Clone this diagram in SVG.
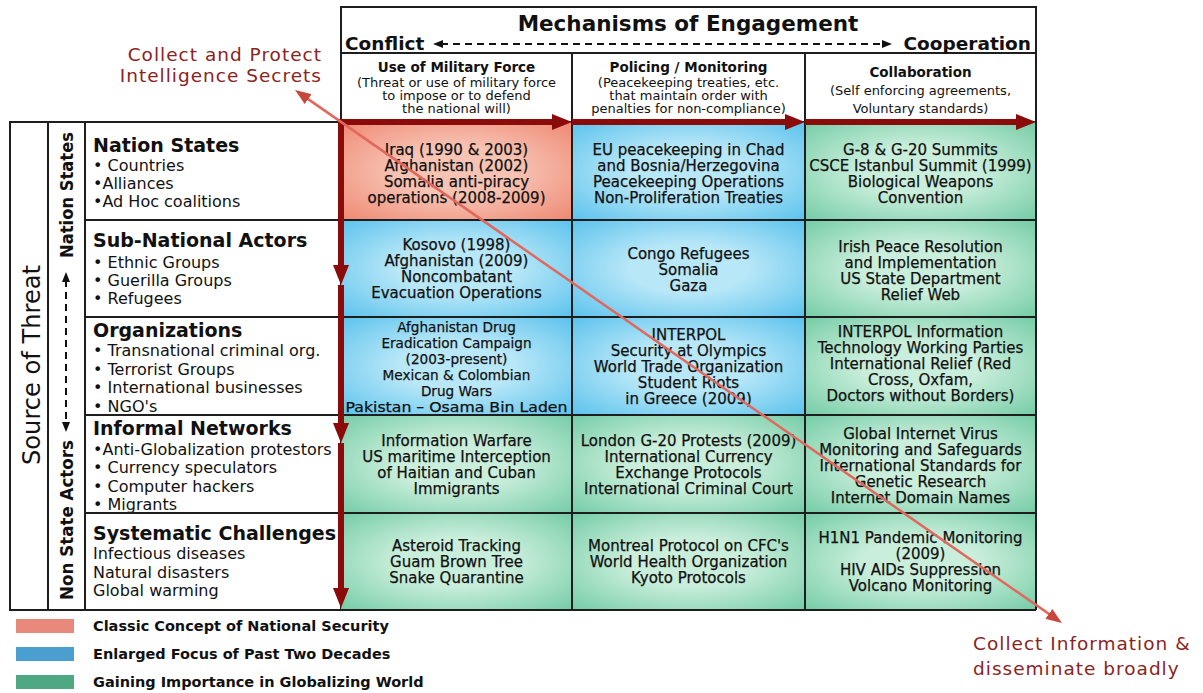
<svg xmlns="http://www.w3.org/2000/svg" width="1203" height="693" viewBox="0 0 1203 693">
<style>
text{font-family:"DejaVu Sans","Liberation Sans",sans-serif;fill:#111}
.cell{font-size:15px;text-anchor:middle;stroke:#111;stroke-width:0.25px}
.cs{font-size:13.6px;text-anchor:middle;stroke:#111;stroke-width:0.25px}
.hd{font-size:13.5px;font-weight:bold;text-anchor:middle}
.hs{font-size:13px;text-anchor:middle}
.rt{font-size:19px;font-weight:bold}
.ri{font-size:16px}
.red{fill:#8B2323;font-size:18.5px;letter-spacing:1px}
.lg{font-size:14.5px;font-weight:bold}
.grid{stroke:#1e1e1e;stroke-width:2;fill:none}
.thick{stroke:#8B0A0A;stroke-width:6;fill:none}
</style>
<defs>
<radialGradient id="gR" cx="0.5" cy="0.5" r="0.72">
<stop offset="0.35" stop-color="#F7C3B3"/><stop offset="1" stop-color="#EE8670"/>
</radialGradient>
<radialGradient id="gB" cx="0.5" cy="0.5" r="0.72">
<stop offset="0.35" stop-color="#B8E7F8"/><stop offset="1" stop-color="#58C1EC"/>
</radialGradient>
<radialGradient id="gG" cx="0.5" cy="0.5" r="0.72">
<stop offset="0.35" stop-color="#C9EEDB"/><stop offset="1" stop-color="#72CBA4"/>
</radialGradient>
<marker id="mThick" markerUnits="userSpaceOnUse" markerWidth="20" markerHeight="16" refX="6" refY="8" orient="auto">
<path d="M0,0 L20,8 L0,16 z" fill="#8B0A0A"/>
</marker>
<marker id="mDiag" markerUnits="userSpaceOnUse" markerWidth="16" markerHeight="12" refX="7" refY="6" orient="auto-start-reverse">
<path d="M0,0 L16,6 L0,12 z" fill="#C8473C"/>
</marker>
<marker id="mDash" markerUnits="userSpaceOnUse" markerWidth="10" markerHeight="8" refX="2" refY="4" orient="auto-start-reverse">
<path d="M0,0 L10,4 L0,8 z" fill="#111"/>
</marker>
</defs>
<rect width="1203" height="693" fill="#fff"/>

<!-- Header -->
<g id="header">
<rect x="341" y="7" width="695" height="115" fill="#fff" class="grid"/>
<line x1="341" y1="53" x2="1036" y2="53" class="grid"/>
<line x1="572" y1="53" x2="572" y2="122" class="grid"/>
<line x1="805" y1="53" x2="805" y2="122" class="grid"/>
<text x="688" y="31" style="font-size:21.5px;font-weight:bold;text-anchor:middle">Mechanisms of Engagement</text>
<text x="345" y="50" style="font-size:18.5px;font-weight:bold">Conflict</text>
<text x="1031" y="50" style="font-size:18.5px;font-weight:bold;text-anchor:end">Cooperation</text>
</g>
<g id="col-military">
<text x="456.5" y="72" class="hd">Use of Military Force</text>
<text x="456.5" y="86.5" class="hs">(Threat or use of military force</text>
<text x="456.5" y="99.5" class="hs">to impose or to defend</text>
<text x="456.5" y="112.5" class="hs">the national will)</text>
</g>
<g id="col-policing">
<text x="688.5" y="72" class="hd">Policing / Monitoring</text>
<text x="688.5" y="86.5" class="hs">(Peacekeeping treaties, etc.</text>
<text x="688.5" y="99.5" class="hs">that maintain order with</text>
<text x="688.5" y="112.5" class="hs">penalties for non-compliance)</text>
</g>
<g id="col-collab">
<text x="920.5" y="77" class="hd">Collaboration</text>
<text x="920.5" y="94.5" class="hs">(Self enforcing agreements,</text>
<text x="920.5" y="112.5" class="hs">Voluntary standards)</text>
</g>

<!-- Left table frame -->
<g id="source-of-threat">
<rect x="10" y="122" width="331" height="488" fill="#fff" class="grid"/>
<line x1="48" y1="122" x2="48" y2="610" class="grid"/>
<line x1="85" y1="122" x2="85" y2="610" class="grid"/>
<text transform="translate(40,365) rotate(-90)" style="font-size:25px;text-anchor:middle" textLength="200" lengthAdjust="spacingAndGlyphs">Source of Threat</text>
<text transform="translate(73,195) rotate(-90)" style="font-size:17px;font-weight:bold;text-anchor:middle" textLength="126" lengthAdjust="spacingAndGlyphs">Nation States</text>
<text transform="translate(73,520) rotate(-90)" style="font-size:17px;font-weight:bold;text-anchor:middle" textLength="160" lengthAdjust="spacingAndGlyphs">Non State Actors</text>
</g>

<!-- Row labels -->
<g id="row-nation-states">
<text x="93" y="152" class="rt">Nation States</text>
<text x="93" y="170.5" class="ri">• Countries</text>
<text x="93" y="188.5" class="ri">•Alliances</text>
<text x="93" y="206.5" class="ri">•Ad Hoc coalitions</text>
</g>
<g id="row-sub-national">
<text x="93" y="247" class="rt">Sub-National Actors</text>
<text x="93" y="267.5" class="ri">• Ethnic Groups</text>
<text x="93" y="285.5" class="ri">• Guerilla Groups</text>
<text x="93" y="303.5" class="ri">• Refugees</text>
</g>
<g id="row-organizations">
<text x="93" y="337" class="rt">Organizations</text>
<text x="93" y="355.5" class="ri">• Transnational criminal org.</text>
<text x="93" y="374.5" class="ri">• Terrorist Groups</text>
<text x="93" y="393" class="ri">• International businesses</text>
<text x="93" y="411.5" class="ri">• NGO's</text>
</g>
<g id="row-informal">
<text x="93" y="435" class="rt">Informal Networks</text>
<text x="93" y="454.5" class="ri">•Anti-Globalization protestors</text>
<text x="93" y="472.5" class="ri">• Currency speculators</text>
<text x="93" y="491.5" class="ri">• Computer hackers</text>
<text x="93" y="509.5" class="ri">• Migrants</text>
</g>
<g id="row-systematic">
<text x="93" y="540" class="rt">Systematic Challenges</text>
<text x="93" y="558.5" class="ri">Infectious diseases</text>
<text x="93" y="577.5" class="ri">Natural disasters</text>
<text x="93" y="595.5" class="ri">Global warming</text>
</g>

<!-- Cells -->
<g id="r1c1"><rect x="341" y="122" width="231" height="98" fill="url(#gR)"/>
<text x="456.5" y="154.5" class="cell">Iraq (1990 &amp; 2003)</text>
<text x="456.5" y="170.5" class="cell">Afghanistan (2002)</text>
<text x="456.5" y="186.5" class="cell">Somalia anti-piracy</text>
<text x="456.5" y="202.5" class="cell">operations (2008-2009)</text></g>
<g id="r1c2"><rect x="572" y="122" width="233" height="98" fill="url(#gB)"/>
<text x="688.5" y="154.5" class="cell">EU peacekeeping in Chad</text>
<text x="688.5" y="170.5" class="cell">and Bosnia/Herzegovina</text>
<text x="688.5" y="186.5" class="cell">Peacekeeping Operations</text>
<text x="688.5" y="202.5" class="cell">Non-Proliferation Treaties</text></g>
<g id="r1c3"><rect x="805" y="122" width="231" height="98" fill="url(#gG)"/>
<text x="920.5" y="154.5" class="cell">G-8  &amp; G-20 Summits</text>
<text x="920.5" y="170.5" class="cell">CSCE Istanbul Summit (1999)</text>
<text x="920.5" y="186.5" class="cell">Biological Weapons</text>
<text x="920.5" y="202.5" class="cell">Convention</text></g>

<g id="r2c1"><rect x="341" y="220" width="231" height="97" fill="url(#gB)"/>
<text x="456.5" y="249.5" class="cell">Kosovo (1998)</text>
<text x="456.5" y="265.5" class="cell">Afghanistan (2009)</text>
<text x="456.5" y="281.5" class="cell">Noncombatant</text>
<text x="456.5" y="297.5" class="cell">Evacuation Operations</text></g>
<g id="r2c2"><rect x="572" y="220" width="233" height="97" fill="url(#gB)"/>
<text x="688.5" y="258.5" class="cell">Congo Refugees</text>
<text x="688.5" y="274.5" class="cell">Somalia</text>
<text x="688.5" y="290.5" class="cell">Gaza</text></g>
<g id="r2c3"><rect x="805" y="220" width="231" height="97" fill="url(#gG)"/>
<text x="920.5" y="251.5" class="cell">Irish Peace Resolution</text>
<text x="920.5" y="267.5" class="cell">and Implementation</text>
<text x="920.5" y="283.5" class="cell">US State Department</text>
<text x="920.5" y="299.5" class="cell">Relief Web</text></g>

<g id="r3c1"><rect x="341" y="317" width="231" height="98" fill="url(#gB)"/>
<text x="456.5" y="332" class="cs">Afghanistan Drug</text>
<text x="456.5" y="348" class="cs">Eradication Campaign</text>
<text x="456.5" y="364" class="cs">(2003-present)</text>
<text x="456.5" y="380" class="cs">Mexican &amp; Colombian</text>
<text x="456.5" y="396" class="cs">Drug Wars</text>
<text x="456.5" y="412" class="cs" textLength="222" lengthAdjust="spacingAndGlyphs">Pakistan – Osama Bin Laden</text></g>
<g id="r3c2"><rect x="572" y="317" width="233" height="98" fill="url(#gB)"/>
<text x="688.5" y="339.5" class="cell">INTERPOL</text>
<text x="688.5" y="355.5" class="cell">Security at Olympics</text>
<text x="688.5" y="371.5" class="cell">World Trade Organization</text>
<text x="688.5" y="387.5" class="cell">Student Riots</text>
<text x="688.5" y="403.5" class="cell">in Greece (2009)</text></g>
<g id="r3c3"><rect x="805" y="317" width="231" height="98" fill="url(#gG)"/>
<text x="920.5" y="336.5" class="cell">INTERPOL Information</text>
<text x="920.5" y="352.5" class="cell">Technology Working Parties</text>
<text x="920.5" y="368.5" class="cell">International Relief (Red</text>
<text x="920.5" y="384.5" class="cell">Cross, Oxfam,</text>
<text x="920.5" y="400.5" class="cell">Doctors without Borders)</text></g>

<g id="r4c1"><rect x="341" y="415" width="231" height="98" fill="url(#gG)"/>
<text x="456.5" y="445.5" class="cell">Information Warfare</text>
<text x="456.5" y="461.5" class="cell">US maritime Interception</text>
<text x="456.5" y="477.5" class="cell">of Haitian and Cuban</text>
<text x="456.5" y="493.5" class="cell">Immigrants</text></g>
<g id="r4c2"><rect x="572" y="415" width="233" height="98" fill="url(#gG)"/>
<text x="688.5" y="445.5" class="cell">London G-20 Protests (2009)</text>
<text x="688.5" y="461.5" class="cell">International Currency</text>
<text x="688.5" y="477.5" class="cell">Exchange Protocols</text>
<text x="688.5" y="493.5" class="cell">International Criminal Court</text></g>
<g id="r4c3"><rect x="805" y="415" width="231" height="98" fill="url(#gG)"/>
<text x="920.5" y="438.5" class="cell">Global Internet Virus</text>
<text x="920.5" y="454.5" class="cell">Monitoring and Safeguards</text>
<text x="920.5" y="470.5" class="cell">International Standards for</text>
<text x="920.5" y="486.5" class="cell">Genetic Research</text>
<text x="920.5" y="502.5" class="cell">Internet Domain Names</text></g>

<g id="r5c1"><rect x="341" y="513" width="231" height="97" fill="url(#gG)"/>
<text x="456.5" y="550.5" class="cell">Asteroid Tracking</text>
<text x="456.5" y="566.5" class="cell">Guam Brown Tree</text>
<text x="456.5" y="582.5" class="cell">Snake Quarantine</text></g>
<g id="r5c2"><rect x="572" y="513" width="233" height="97" fill="url(#gG)"/>
<text x="688.5" y="550.5" class="cell">Montreal Protocol on CFC's</text>
<text x="688.5" y="566.5" class="cell">World Health Organization</text>
<text x="688.5" y="582.5" class="cell">Kyoto Protocols</text></g>
<g id="r5c3"><rect x="805" y="513" width="231" height="97" fill="url(#gG)"/>
<text x="920.5" y="542.5" class="cell">H1N1 Pandemic Monitoring</text>
<text x="920.5" y="558.5" class="cell">(2009)</text>
<text x="920.5" y="574.5" class="cell">HIV AIDs Suppression</text>
<text x="920.5" y="590.5" class="cell">Volcano Monitoring</text></g>

<!-- Grid lines -->
<g id="grid" class="grid">
<line x1="85" y1="220" x2="1036" y2="220"/>
<line x1="85" y1="317" x2="1036" y2="317"/>
<line x1="85" y1="415" x2="1036" y2="415"/>
<line x1="85" y1="513" x2="1036" y2="513"/>
<line x1="10" y1="610" x2="1036" y2="610"/>
<line x1="572" y1="122" x2="572" y2="610"/>
<line x1="805" y1="122" x2="805" y2="610"/>
<line x1="1036" y1="122" x2="1036" y2="610"/>
</g>

<!-- Legend -->
<g id="legend-classic">
<rect x="16" y="619" width="58" height="14" fill="#E8897C"/>
<text x="93" y="630.5" class="lg">Classic Concept of National Security</text>
</g>
<g id="legend-enlarged">
<rect x="16" y="647" width="58" height="14" fill="#4A9FD0"/>
<text x="93" y="658.5" class="lg">Enlarged Focus of Past Two Decades</text>
</g>
<g id="legend-gaining">
<rect x="16" y="675" width="58" height="14" fill="#4EA982"/>
<text x="93" y="687" class="lg">Gaining Importance in Globalizing World</text>
</g>

<!-- Annotations -->
<g id="note-secrets">
<text x="322" y="61" class="red" style="text-anchor:end">Collect and Protect</text>
<text x="322" y="82" class="red" style="text-anchor:end">Intelligence Secrets</text>
</g>
<g id="note-disseminate">
<text x="973" y="650" class="red">Collect Information &amp;</text>
<text x="973" y="675" class="red">disseminate broadly</text>
</g>

<!-- Connectors -->
<g id="connectors">
<line x1="441" y1="44" x2="884" y2="44" stroke="#111" stroke-width="2" stroke-dasharray="7 5" marker-start="url(#mDash)" marker-end="url(#mDash)"/>
<line x1="66" y1="280" x2="66" y2="424" stroke="#111" stroke-width="2" stroke-dasharray="7 5" marker-start="url(#mDash)" marker-end="url(#mDash)"/>
<line x1="341" y1="122" x2="558" y2="122" class="thick" marker-end="url(#mThick)"/>
<line x1="572" y1="122" x2="791" y2="122" class="thick" marker-end="url(#mThick)"/>
<line x1="805" y1="122" x2="1022" y2="122" class="thick" marker-end="url(#mThick)"/>
<line x1="341" y1="119" x2="341" y2="271" class="thick" stroke-width="5" marker-end="url(#mThick)"/>
<line x1="341" y1="285" x2="341" y2="429" class="thick" stroke-width="5" marker-end="url(#mThick)"/>
<line x1="341" y1="443" x2="341" y2="594" class="thick" stroke-width="5" marker-end="url(#mThick)"/>
<line x1="302.4" y1="95.1" x2="1054.6" y2="617.9" stroke="#E2685D" stroke-width="2.5" marker-start="url(#mDiag)" marker-end="url(#mDiag)"/>
</g>
</svg>
